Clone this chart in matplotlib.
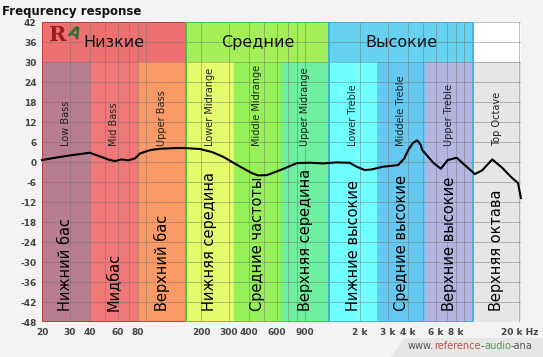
import matplotlib.pyplot as plt
from matplotlib.patches import Rectangle, Polygon
import numpy as np

# octave bands
band_edges = [20, 40, 80, 160, 320, 640, 1280, 2560, 5120, 10240, 20480]
band_en = ['Low Bass', 'Mid Bass', 'Upper Bass', 'Lower Midrange', 'Middle Midrange',
           'Upper Midrange', 'Lower Treble', 'Middele Treble', 'Upper Treble', 'Top Octave']
band_ru = ['Нижний бас', 'Мидбас', 'Верхний бас', 'Нижняя середина', 'Средние частоты',
           'Верхняя середина', 'Нижние высокие', 'Средние высокие', 'Верхние высокие',
           'Верхняя октава']
band_colors = ['#b97d91', '#f07878', '#f99a66', '#e6fa6e', '#96f05a',
               '#6ef0a0', '#70ffff', '#64c8f0', '#b4b4e1', '#e6e6e6']

# top groups
group_names = ['Низкие', 'Средние', 'Высокие']
group_edges = [20, 160, 1280, 10240]
group_colors = ['#ee7070', '#a4ee5a', '#64d2f0']
group_borders = ['#c03a3a', '#3cd23c', '#3cb0dc']

# measured response (Hz, dB)
freq = [20, 24.2, 30, 40, 46.2, 53.5, 57.6, 63.4, 69.4, 76.9, 82.7, 95.9, 110, 137, 160,
        197.6, 235, 275, 353, 417, 456, 520, 630, 802, 967, 1168, 1419, 1717, 1902,
        2138, 2368, 2780, 3460, 3780, 4007, 4300, 4571, 4800, 4915, 5790, 6430, 7100,
        8080, 9100, 10520, 11680, 13530, 15700, 17700, 19650, 20480]
db = [0.6, 1.3, 2.0, 2.8, 1.7, 0.6, 0.3, 0.8, 0.5, 1.1, 2.6, 3.6, 4.0, 4.2, 4.2,
      3.9, 3.0, 1.6, -1.4, -3.3, -4.0, -3.9, -2.4, -0.3, -0.2, -0.4, -0.1, -0.2, -1.4,
      -2.4, -2.2, -1.4, -0.9, 1.0, 3.6, 5.8, 6.5, 5.2, 3.6, -0.3, -2.0, 0.6,
      1.3, -0.9, -3.6, -2.5, 0.8, -1.8, -4.4, -6.3, -10.8]

xticks = [20, 30, 40, 60, 80, 200, 300, 400, 600, 900, 2000, 3000, 4000, 6000, 8000, 20000]
xtick_labels = ['20', '30', '40', '60', '80', '200', '300', '400', '600', '900',
                '2 k', '3 k', '4 k', '6 k', '8 k', '20 k Hz']
yticks = list(range(-48, 43, 6))

fig = plt.figure(figsize=(5.43, 3.57), dpi=100, facecolor='#f3f3f3')
ax = fig.add_axes([0.0773, 0.098, 0.882, 0.84])
ax.set_xscale('log')
ax.set_xlim(20, 20480)
ax.set_ylim(-48, 42)
ax.set_facecolor('white')

# sub band fills (below 30 dB)
for i in range(len(band_en)):
    lo, hi = band_edges[i], band_edges[i + 1]
    ax.add_patch(Rectangle((lo, -48), hi - lo, 78, facecolor=band_colors[i],
                           edgecolor='none', zorder=0.5))
    mid = np.sqrt(lo * hi)
    ax.text(mid, 4.8, band_en[i], rotation=90, ha='center', va='bottom',
            fontsize=7, color='#222222', zorder=4)
    ax.text(mid, -44.6, band_ru[i], rotation=90, ha='center', va='bottom',
            fontsize=10.5, color='black', zorder=4)

# group headers + borders
for i in range(len(group_names)):
    lo, hi = group_edges[i], group_edges[i + 1]
    ax.add_patch(Rectangle((lo, 30), hi - lo, 12, facecolor=group_colors[i],
                           edgecolor='none', zorder=0.5))
    ax.add_patch(Rectangle((lo, -48), hi - lo, 90, facecolor='none',
                           edgecolor=group_borders[i], lw=1.3, zorder=3))
    ax.text(np.sqrt(lo * hi), 36, group_names[i], ha='center', va='center',
            fontsize=11.5, color='#111111', zorder=4)

ax.grid(True, which='both', color='#707070', alpha=0.45, lw=0.7)
ax.set_axisbelow(False)

ax.plot(freq, db, color='black', lw=1.5, zorder=3.5, clip_on=False)

ax.set_yticks(yticks)
ax.set_yticklabels([str(v) for v in yticks], fontsize=6.5, fontweight='bold', color='#444444')
ax.set_xticks(xticks)
ax.set_xticklabels(xtick_labels, fontsize=6.5, fontweight='bold', color='#444444')
ax.xaxis.set_minor_formatter(plt.NullFormatter())
ax.tick_params(which='both', length=0, pad=4)
for s in ax.spines.values():
    s.set_visible(False)

# logo
ax.text(22.0, 38.0, 'R', fontsize=15, fontweight='bold', family='DejaVu Serif',
        color='#9b1c1c', ha='left', va='center', zorder=5)
ax.text(28.0, 38.5, 'A', fontsize=11, fontweight='bold', color='#2c6e2c',
        ha='left', va='center', zorder=5, rotation=-25)

# title
fig.text(0.004, 0.985, 'Frequrency response', fontsize=8.5, fontweight='bold',
         color='#111111', ha='left', va='top')

# site mark
fig.patches.append(Polygon([[0.72, 0.0], [0.745, 0.053], [1.0, 0.053], [1.0, 0.0]],
                           closed=True, transform=fig.transFigure,
                           facecolor='#e6e6e6', edgecolor='none', zorder=0))
x0 = 0.751
for part, col in [('www.', '#555555'), ('reference', '#c05050'), ('-', '#555555'),
                  ('audio', '#50a050'), ('-ana', '#555555')]:
    t = fig.text(x0, 0.03, part, fontsize=7, color=col, ha='left', va='center')
    fig.canvas.draw()
    bb = t.get_window_extent()
    x0 += bb.width / fig.bbox.width

fig.savefig('out.png', dpi=100, facecolor=fig.get_facecolor())
